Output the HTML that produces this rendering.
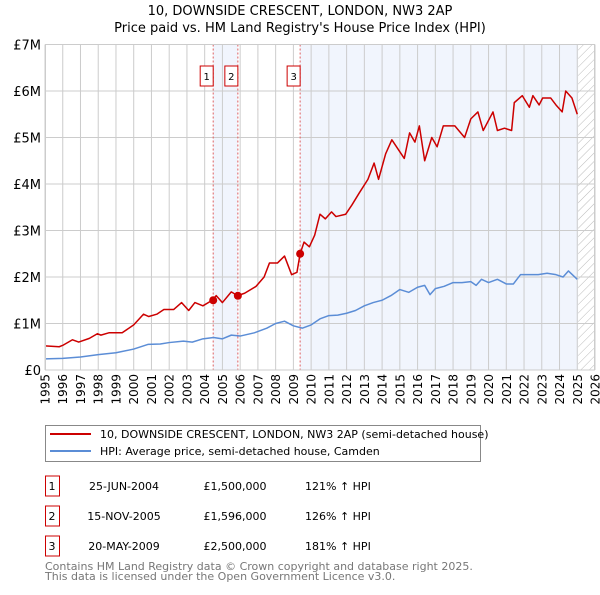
<!DOCTYPE html>
<html><head><meta charset="utf-8"><style>
body{margin:0;background:#fff;font-family:"Liberation Sans","DejaVu Sans",sans-serif;}
svg text{font-family:"DejaVu Sans","Liberation Sans",sans-serif;}
</style></head><body>
<svg id="c" width="600" height="590" xmlns="http://www.w3.org/2000/svg">
<defs><pattern id="hatch" width="6" height="6" patternUnits="userSpaceOnUse" patternTransform="rotate(45)"><line x1="0" y1="0" x2="0" y2="6" stroke="#bbb" stroke-width="1"/></pattern></defs>
<text x="300" y="15" text-anchor="middle" font-size="13">10, DOWNSIDE CRESCENT, LONDON, NW3 2AP</text>
<text x="300" y="32" text-anchor="middle" font-size="13">Price paid vs. HM Land Registry's House Price Index (HPI)</text>
<g id="plot"></g>
<g>
<rect x="45.5" y="425.5" width="435" height="36" fill="#fff" stroke="#888"/>
<line x1="50" y1="434" x2="91" y2="434" stroke="#cc0000" stroke-width="2"/>
<text x="100" y="438" font-size="11">10, DOWNSIDE CRESCENT, LONDON, NW3 2AP (semi-detached house)</text>
<line x1="50" y1="451" x2="91" y2="451" stroke="#5b8dd6" stroke-width="2"/>
<text x="100" y="455" font-size="11">HPI: Average price, semi-detached house, Camden</text>
</g>
<g id="table" font-size="11"></g>
<text x="45" y="570" font-size="11" fill="#777">Contains HM Land Registry data © Crown copyright and database right 2025.</text>
<text x="45" y="580" font-size="11" fill="#777">This data is licensed under the Open Government Licence v3.0.</text>
</svg>
<script>
const yearTicks=[1995,1996,1997,1998,1999,2000,2001,2002,2003,2004,2005,2006,2007,2008,2009,2010,2011,2012,2013,2014,2015,2016,2017,2018,2019,2020,2021,2022,2023,2024,2025,2026];
const valueTicks=[0,1,2,3,4,5,6,7];
const valueTickLabels=["£0","£1M","£2M","£3M","£4M","£5M","£6M","£7M"];
const redYears=[1995,1995.8,1996,1996.55,1996.9,1997.5,1997.95,1998.15,1998.6,1998.9,1999.35,2000,2000.55,2000.85,2001.3,2001.7,2002.25,2002.7,2003.1,2003.45,2003.9,2004.43,2004.65,2005,2005.5,2005.85,2006.25,2006.9,2007.35,2007.65,2008.1,2008.5,2008.9,2009.2,2009.38,2009.6,2009.9,2010.2,2010.5,2010.8,2011.15,2011.4,2011.95,2012.3,2012.7,2013.2,2013.55,2013.8,2014.2,2014.55,2015.25,2015.55,2015.85,2016.1,2016.4,2016.8,2017.1,2017.45,2018.1,2018.65,2019,2019.4,2019.7,2020.25,2020.5,2020.9,2021.3,2021.45,2021.9,2022.3,2022.5,2022.85,2023.05,2023.5,2023.8,2024.15,2024.35,2024.7,2025];
const redValues=[0.52,0.5,0.53,0.65,0.6,0.68,0.78,0.75,0.8,0.8,0.8,0.97,1.2,1.15,1.2,1.3,1.3,1.45,1.28,1.45,1.38,1.5,1.6,1.45,1.68,1.6,1.65,1.8,2.0,2.3,2.3,2.45,2.05,2.1,2.5,2.75,2.65,2.9,3.35,3.25,3.4,3.3,3.35,3.55,3.8,4.1,4.45,4.1,4.65,4.95,4.55,5.1,4.9,5.25,4.5,5.0,4.8,5.25,5.25,5.0,5.4,5.55,5.15,5.55,5.15,5.2,5.15,5.75,5.9,5.65,5.9,5.7,5.85,5.85,5.7,5.55,6.0,5.85,5.5];
const blueYears=[1995,1996,1997,1998,1999,2000,2000.8,2001.5,2002,2002.8,2003.3,2003.9,2004.5,2005,2005.5,2006,2006.8,2007.5,2008,2008.5,2009,2009.5,2010,2010.5,2011,2011.5,2012,2012.5,2013,2013.5,2014,2014.5,2015,2015.5,2016,2016.4,2016.7,2017,2017.5,2018,2018.5,2019,2019.3,2019.6,2020,2020.5,2021,2021.4,2021.8,2022.3,2022.8,2023.3,2023.8,2024.2,2024.5,2025];
const blueValues=[0.24,0.25,0.28,0.33,0.37,0.45,0.55,0.56,0.59,0.62,0.6,0.67,0.7,0.67,0.75,0.73,0.8,0.9,1.0,1.05,0.95,0.9,0.97,1.1,1.17,1.18,1.22,1.28,1.38,1.45,1.5,1.6,1.73,1.67,1.78,1.82,1.62,1.75,1.8,1.88,1.88,1.9,1.82,1.95,1.88,1.95,1.85,1.85,2.05,2.05,2.05,2.08,2.05,2.0,2.13,1.95];
const saleYears=[2004.48,2005.87,2009.38];
const saleValues=[1.5,1.596,2.5];
const saleLabels=["1","2","3"];
const saleDates=["25-JUN-2004","15-NOV-2005","20-MAY-2009"];
const salePrices=["£1,500,000","£1,596,000","£2,500,000"];
const saleHpi=["121% ↑ HPI","126% ↑ HPI","181% ↑ HPI"];

const NS="http://www.w3.org/2000/svg";
const X0=45,X1=595,Y0=370,Y1=44.5;
const xs=y=>X0+(y-1995)/(2026-1995)*(X1-X0);
const ys=v=>Y0-v/7*(Y0-Y1);
const plot=document.getElementById('plot');
function mk(tag,attrs,parent){const e=document.createElementNS(NS,tag);for(const k in attrs)e.setAttribute(k,attrs[k]);(parent||plot).appendChild(e);return e;}
let r=mk('rect',{x:X0,y:Y1,width:X1-X0,height:Y0-Y1,fill:'#fff'});


r=mk('rect',{x:xs(saleYears[0]),y:Y1,width:xs(saleYears[1])-xs(saleYears[0]),height:Y0-Y1,fill:'#eef3fc',opacity:0.8});


r=mk('rect',{x:xs(saleYears[2]),y:Y1,width:xs(2025.05)-xs(saleYears[2]),height:Y0-Y1,fill:'#eef3fc',opacity:0.8});


r=mk('rect',{x:xs(2025.05),y:Y1,width:X1-xs(2025.05),height:Y0-Y1,fill:'url(#hatch)'});


yearTicks.forEach(y=>{
 const l=mk('line',{x1:xs(y),x2:xs(y),y1:Y1,y2:Y0,stroke:'#ccc','stroke-width':1});
 
 
 const tx=xs(y)+4.5,ty=Y0+4;
 const t=mk('text',{x:tx,y:ty,'text-anchor':'end','font-size':12,transform:`rotate(-90 ${tx} ${ty})`});
 t.textContent=y;
 
 
});
valueTicks.forEach((v,i)=>{
 const l=mk('line',{x1:X0,x2:X1,y1:ys(v),y2:ys(v),stroke:'#ccc','stroke-width':1});
 
 
 const t=mk('text',{x:X0-4,y:ys(v)+5,'text-anchor':'end','font-size':13});
 t.textContent=valueTickLabels[i];
 
 
});
saleYears.forEach((y,i)=>{
 const l=mk('line',{x1:xs(y),x2:xs(y),y1:Y1,y2:Y0,stroke:'#e06060','stroke-width':1,'stroke-dasharray':'2,2'});
 
 
 const b=mk('rect',{x:xs(y)-13,y:66,width:13,height:20,fill:'#fff',stroke:'#cc0000'});
 
 
 const t=mk('text',{x:xs(y)-6.5,y:80,'text-anchor':'middle','font-size':10});
 t.textContent=saleLabels[i];
 
 
});
const line=(xa,va,col,name)=>{const p=mk('polyline',{points:xa.map((x,i)=>xs(x)+','+ys(va[i])).join(' '),fill:'none',stroke:col,'stroke-width':1.5,'stroke-linejoin':'round'});};
line(blueYears,blueValues,'#5b8dd6','hpi-line');
line(redYears,redValues,'#cc0000','property-line');
saleYears.forEach((y,i)=>{
 const c=mk('circle',{cx:xs(y),cy:ys(saleValues[i]),r:4,fill:'#cc0000'});
 
 
});
mk('rect',{x:X0+0.5,y:Y1,width:X1-X0-1,height:Y0-Y1,fill:'none',stroke:'#ccc'});
const tb=document.getElementById('table');
saleLabels.forEach((s,i)=>{
 const yy=484+i*30;
 const b=mk('rect',{x:45.5,y:yy-8,width:14,height:20,fill:'#fff',stroke:'#cc0000'},tb);
 
 
 const cells=[[52,s,'middle'],[124,saleDates[i],'middle'],[235,salePrices[i],'middle'],[305,saleHpi[i],'start']];
 cells.forEach(c=>{const t=mk('text',{x:c[0],y:yy+6,'text-anchor':c[2]},tb);t.textContent=c[1];
 
 });
});
</script>
</body></html>
